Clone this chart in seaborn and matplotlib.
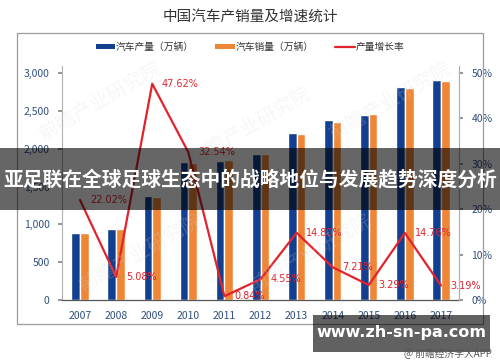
import pandas as pd
import numpy as np
import matplotlib
matplotlib.use("Agg")
import matplotlib.pyplot as plt
import seaborn as sns
from matplotlib.patches import Rectangle, Patch
from matplotlib.lines import Line2D

# 数据
years = ["2007", "2008", "2009", "2010", "2011", "2012", "2013", "2014", "2015", "2016", "2017"]
production = [888, 934, 1379, 1826, 1842, 1927, 2212, 2372, 2450, 2812, 2902]
sales = [879, 938, 1364, 1806, 1851, 1931, 2198, 2349, 2460, 2803, 2888]
growth = [22.02, 5.08, 47.62, 32.54, 0.84, 4.55, 14.80, 7.21, 3.29, 14.76, 3.19]
growth_labels = ["22.02%", "5.08%", "47.62%", "32.54%", "0.84%", "4.55%",
                 "14.80%", "7.21%", "3.29%", "14.76%", "3.19%"]
left_ticks = [0, 500, 1000, 1500, 2000, 2500, 3000]
left_labels = ["0", "500", "1,000", "1,500", "2,000", "2,500", "3,000"]
right_ticks = [0, 10, 20, 30, 40, 50]
right_labels = ["0%", "10%", "20%", "30%", "40%", "50%"]

BLUE = "#123f8f"
ORANGE = "#ef8636"
RED = "#e3232c"
TICK = "#2f4f7f"

sns.set_theme(style="white")
plt.rcParams['font.family'] = ['Noto Sans CJK SC', 'DejaVu Sans']

df = pd.DataFrame({
    "year": years * 2,
    "value": production + sales,
    "kind": ["汽车产量（万辆）"] * len(years) + ["汽车销量（万辆）"] * len(years),
})

fig = plt.figure(figsize=(5, 3.62), dpi=100)
fig.patch.set_facecolor("white")

# 外框
fig.patches.append(Rectangle((0.034, 0.105), 0.932, 0.804, transform=fig.transFigure,
                             fill=False, edgecolor="#9a9a9a", linewidth=0.9, zorder=0))

ax = fig.add_axes([0.124, 0.1713, 0.794, 0.646])
sns.barplot(data=df, x="year", y="value", hue="kind", palette=[BLUE, ORANGE],
            width=0.48, gap=0, ax=ax, legend=False, saturation=1)
ax.set_xlim(-0.5, len(years) - 0.5)
ax.set_ylim(0, 3090)
ax.set_yticks(left_ticks)
ax.set_yticklabels(left_labels, fontsize=7.5, color=TICK)
ax.set_xticks(range(len(years)))
ax.set_xticklabels(years, fontsize=7.5, color=TICK)
ax.set_xticks(np.arange(-0.5, len(years), 1), minor=True)
ax.tick_params(axis="x", which="major", length=0, pad=8)
ax.tick_params(axis="x", which="minor", length=4, color="#555555", direction="out")
ax.tick_params(axis="y", length=3, color="#888888", direction="out", pad=6)
ax.set_xlabel("")
ax.set_ylabel("")
ax.spines["top"].set_visible(False)
for s in ["left", "right"]:
    ax.spines[s].set_color("#b0b0b0")
    ax.spines[s].set_linewidth(0.8)
ax.spines["bottom"].set_color("#555555")
ax.spines["bottom"].set_linewidth(0.9)

ax2 = ax.twinx()
sns.lineplot(x=np.arange(len(years)), y=growth, color=RED, linewidth=1.6, ax=ax2)
ax2.set_ylim(0, 3090 / 3000 * 50)
ax2.set_yticks(right_ticks)
ax2.set_yticklabels(right_labels, fontsize=7.5, color=TICK)
ax2.tick_params(axis="y", length=3, color="#888888", direction="out", pad=6)
for s in ["top", "left", "bottom"]:
    ax2.spines[s].set_visible(False)
ax2.spines["right"].set_color("#b0b0b0")
ax2.spines["right"].set_linewidth(0.8)
for i, (g, lab) in enumerate(zip(growth, growth_labels)):
    ax2.annotate(lab, (i, g), xytext=(7, 0), textcoords="offset points",
                 ha="left", va="center", fontsize=7, color=RED,
                 family=["DejaVu Sans"])

# 标题与图例
fig.text(0.5, 0.953, "中国汽车产销量及增速统计", ha="center", va="center",
         fontsize=10.5, color="#333333")
handles = [Patch(facecolor=BLUE, edgecolor="none"),
           Patch(facecolor=ORANGE, edgecolor="none"),
           Line2D([0], [0], color=RED, linewidth=1.6)]
fig.legend(handles, ["汽车产量（万辆）", "汽车销量（万辆）", "产量增长率"],
           loc="center", bbox_to_anchor=(0.5, 0.87), ncol=3, frameon=False,
           fontsize=7, handlelength=2.0, handleheight=0.5, columnspacing=2.2,
           handletextpad=0.1, labelcolor="#333333")

# 水印
for (wx, wy) in [(0.2, 0.72), (0.5, 0.65), (0.78, 0.72), (0.28, 0.3), (0.62, 0.3)]:
    fig.text(wx, wy, "前瞻产业研究院", rotation=30, fontsize=14, color="#d8d8d8",
             alpha=0.22, ha="center", va="center")

# 横幅
fig.patches.append(Rectangle((0, 0.42), 1, 0.171, transform=fig.transFigure,
                             facecolor="black", alpha=0.6, edgecolor="none", zorder=5))
fig.text(0.5, 0.505, "亚足联在全球足球生态中的战略地位与发展趋势深度分析",
         ha="center", va="center", fontsize=14.2, color="white", fontweight="bold", zorder=6)

fig.patches.append(Rectangle((0.626, 0.028), 0.354, 0.102, transform=fig.transFigure,
                             facecolor="black", alpha=0.62, edgecolor="none", zorder=5))
fig.text(0.803, 0.082, "www.zh-sn-pa.com", ha="center", va="center", fontsize=11.5,
         color="white", fontweight="bold", family=["DejaVu Sans"], zorder=6)
fig.text(0.984, 0.022, "@ 前瞻经济学人APP", ha="right", va="center", fontsize=7,
         color="#555555", zorder=6)

fig.savefig("out.png", dpi=100)
